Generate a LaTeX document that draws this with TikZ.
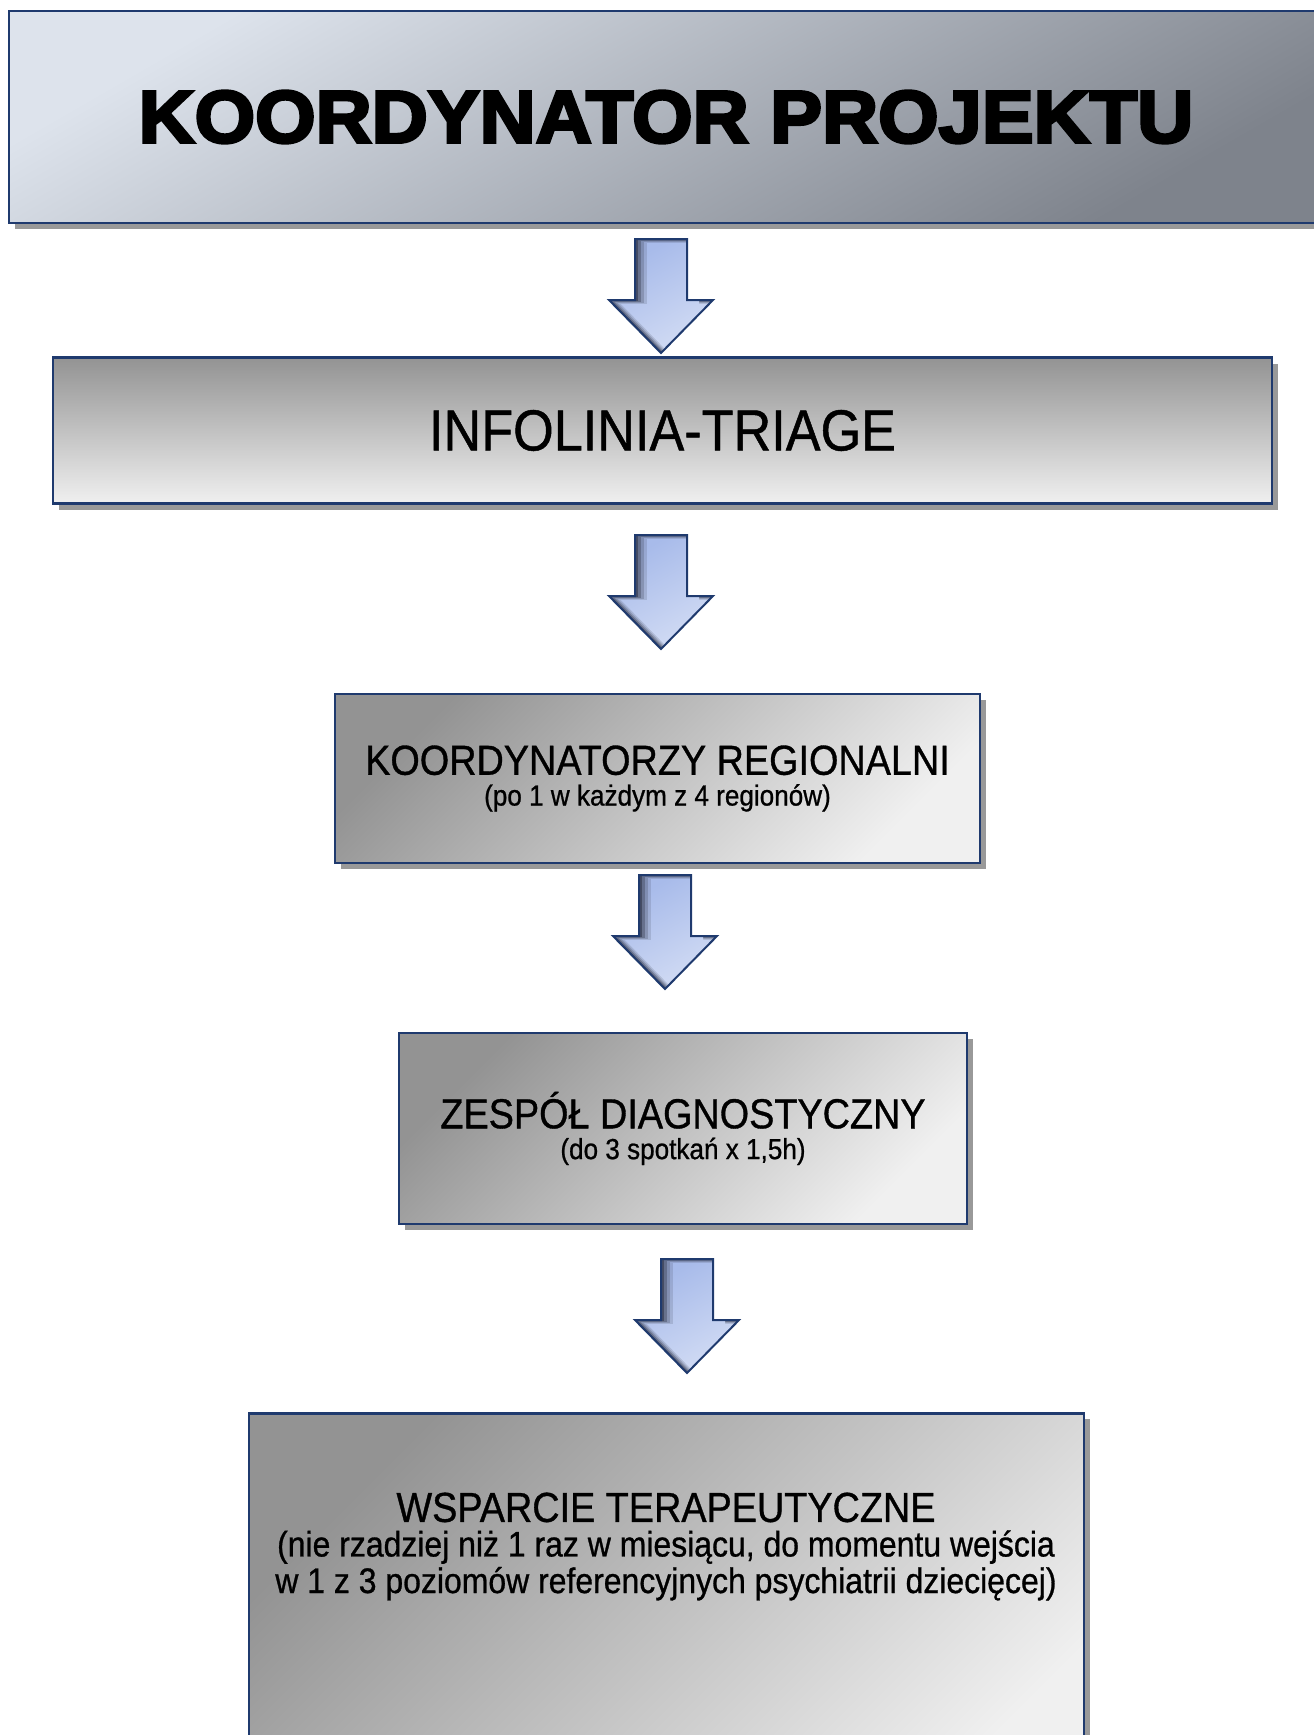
\documentclass[tikz,border=0pt]{standalone}
\usepackage{fontspec}
\setmainfont{Liberation Sans}[FakeStretch=0.9,FakeBold=0.8]
\newfontfamily\heavyfont{Liberation Sans Bold}[FakeBold=4,FakeStretch=1.05]
\usetikzlibrary{shadows}
\usetikzlibrary{positioning}
\usetikzlibrary{calc}
\definecolor{boxline}{HTML}{1F3A6E}
\definecolor{titletop}{HTML}{DDE3EC}
\definecolor{titlebot}{HTML}{7E838C}
\definecolor{greydark}{HTML}{939393}
\definecolor{greylight}{HTML}{F0F0F0}
\definecolor{arrtop}{HTML}{A8BBEA}
\definecolor{arrbot}{HTML}{D6DFF5}
\definecolor{arrdark}{HTML}{454C63}
\newcommand\arrshape{(-26,0) -- (26,0) -- (26,61) -- (52,61) -- (0,114) -- (-52,61) -- (-26,61) -- cycle}
\tikzset{
  box/.style={draw=boxline, line width=2.5pt, rectangle, align=center, inner sep=0pt,
    drop shadow={shadow xshift=6pt, shadow yshift=-6pt, fill=black!40, opacity=1}},
  greybox/.style={box, top color=greydark, bottom color=greylight, shading angle=45},
  arrfill/.style={top color=arrtop, bottom color=arrbot, shading angle=30},
  pics/downarr/.style={
    code={
      \begin{scope}
        \clip \arrshape;
        \fill[arrdark] \arrshape;
        \shade[arrfill, opacity=0.3, shift={(3,1)}] \arrshape;
        \shade[arrfill, opacity=0.4, shift={(6,2)}] \arrshape;
        \shade[arrfill, opacity=0.55, shift={(9,3)}] \arrshape;
        \shade[arrfill, shift={(12,4)}] \arrshape;
      \end{scope}
      \draw[boxline, line width=2pt] \arrshape;
    }
  }
}

\begin{document}
\begin{tikzpicture}[x=1pt, y=-1pt]

\useasboundingbox (0,0) rectangle (1314,1735);
\clip (0,0) rectangle (1314,1735);

%%%Boxes
\node[box, top color=titletop, bottom color=titlebot, shading angle=30, minimum width=1314pt, minimum height=212pt] (projekt) at (666,117) {\heavyfont\fontsize{74}{80}\selectfont KOORDYNATOR PROJEKTU};

\node[box, top color=greydark, bottom color=greylight, minimum width=1219pt, minimum height=146pt] (triage) at (662.5,430.5) {\fontsize{58}{64}\selectfont INFOLINIA-TRIAGE};

\node[greybox, minimum width=645pt, minimum height=169pt] (regiony) at (657.5,778.5) {\fontsize{42}{46}\selectfont KOORDYNATORZY REGIONALNI\\[8pt] \fontsize{29}{32}\selectfont (po 1 w każdym z 4 regionów)};

\node[greybox, minimum width=568pt, minimum height=191pt] (zespol) at (683,1128.5) {\fontsize{42}{46}\selectfont ZESPÓŁ DIAGNOSTYCZNY\\[8pt] \fontsize{29}{32}\selectfont (do 3 spotkań x 1,5h)};

\node[greybox, anchor=north, minimum width=835pt, minimum height=420pt] (wsparcie) at (666.5,1412) {};
\node[align=center] (wsptxt) at (666,1546.5) {\fontsize{42}{46}\selectfont WSPARCIE TERAPEUTYCZNE\\[7pt] \fontsize{35.5}{38}\selectfont (nie rzadziej niż 1 raz w miesiącu, do momentu wejścia\\[2pt] \fontsize{35.5}{38}\selectfont w 1 z 3 poziomów referencyjnych psychiatrii dziecięcej)};

%%%Arrows
\coordinate (A1) at (661,239);
\coordinate (A2) at (661,535);
\coordinate (A3) at (665,875);
\coordinate (A4) at (687,1259);
\path (A1) pic{downarr};
\path (A2) pic{downarr};
\path (A3) pic{downarr};
\path (A4) pic{downarr};

\end{tikzpicture}
\end{document}
